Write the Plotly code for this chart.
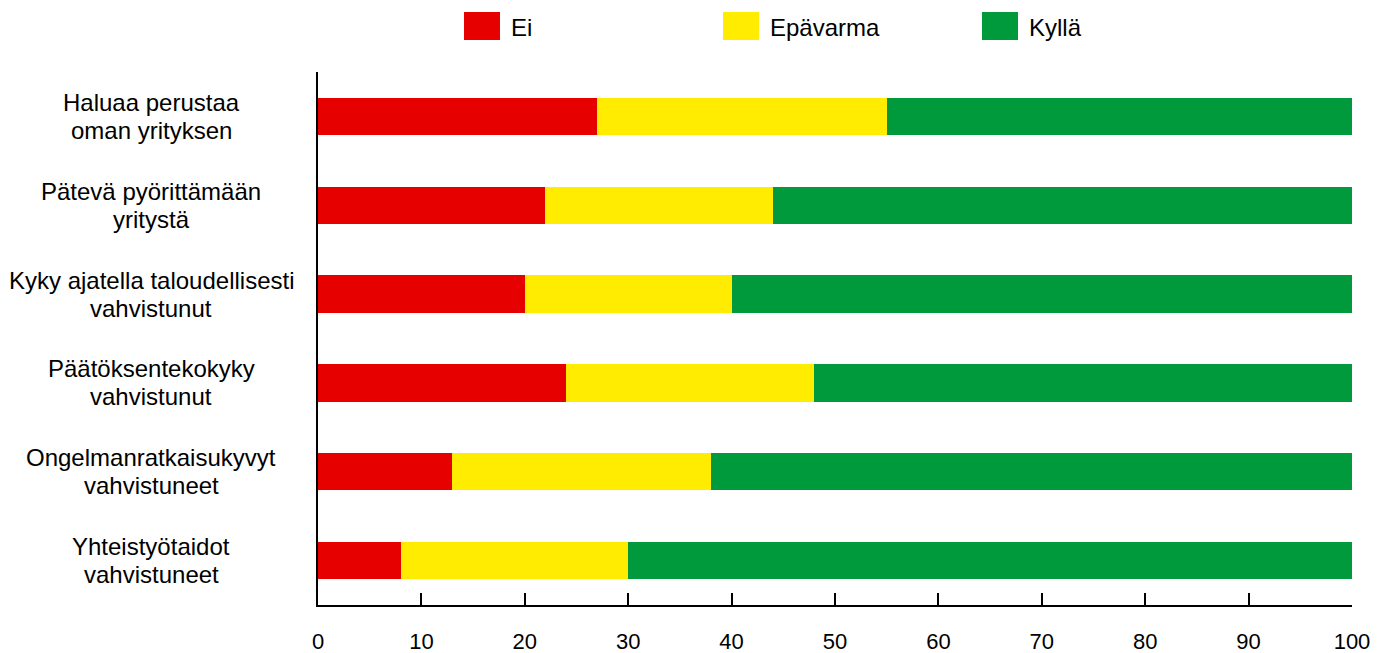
import plotly.graph_objects as go

categories = [
    "Haluaa perustaa<br>oman yrityksen",
    "Pätevä pyörittämään<br>yritystä",
    "Kyky ajatella taloudellisesti<br>vahvistunut",
    "Päätöksentekokyky<br>vahvistunut",
    "Ongelmanratkaisukyvyt<br>vahvistuneet",
    "Yhteistyötaidot<br>vahvistuneet",
]
ei = [27, 22, 20, 24, 13, 8]
epavarma = [28, 22, 20, 24, 25, 22]
kylla = [45, 56, 60, 52, 62, 70]
series_names = ["Ei", "Epävarma", "Kyllä"]
colors = ["#E60000", "#FFEC00", "#00993B"]
x_ticks = list(range(0, 101, 10))

W, H = 1384, 653
OFF = 8  # page body offset
# target screen positions of plot area
PX0, PX1, PY0, PY1 = 318, 1352, 72, 605
ML = PX0 - OFF
MR = W - (PX1 - OFF)
MT = PY0 - OFF
MB = H - (PY1 - OFF)
pw = PX1 - PX0
ph = PY1 - PY0
FONT = "Liberation Sans, Arial, Helvetica, sans-serif"


def sx(px):
    return (px - PX0) / pw


def sy(py):
    return (PY1 - py) / ph


fig = go.Figure()
for name, vals, col in zip(series_names, [ei, epavarma, kylla], colors):
    fig.add_trace(go.Bar(
        y=categories, x=vals, name=name, orientation="h",
        marker=dict(color=col, line=dict(width=0)),
        showlegend=False, hoverinfo="x+name",
    ))

# category labels, centered, two lines each
for c in categories:
    lines = c.split("<br>")
    for i, ln in enumerate(lines):
        fig.add_annotation(
            x=sx(151), xref="paper", y=c, yref="y",
            text=ln, showarrow=False, xanchor="center", yanchor="middle",
            yshift=14 - 28 * i,
            font=dict(size=24, color="black", family=FONT),
        )

# custom legend
legend_x = [464, 723, 982]
for name, col, lx in zip(series_names, colors, legend_x):
    fig.add_shape(
        type="rect", xref="paper", yref="paper",
        x0=sx(lx), x1=sx(lx + 36), y0=sy(40), y1=sy(12),
        fillcolor=col, line=dict(width=0),
    )
    fig.add_annotation(
        x=sx(lx + 45), xref="paper", y=sy(27), yref="paper",
        text=name, showarrow=False, xanchor="left", yanchor="middle",
        font=dict(size=24, color="black", family=FONT),
    )

fig.update_layout(
    width=W, height=H,
    margin=dict(l=ML, r=MR, t=MT, b=MB, pad=0, autoexpand=False),
    barmode="stack", bargap=0.58,
    plot_bgcolor="white", paper_bgcolor="white",
    font=dict(family=FONT, size=22, color="black"),
    showlegend=False,
    xaxis=dict(
        range=[0, 100], tickvals=x_ticks, ticktext=[str(t) for t in x_ticks],
        ticks="inside", ticklen=12, tickwidth=2, tickcolor="black",
        showline=True, linecolor="black", linewidth=2,
        showgrid=False, zeroline=False, ticklabelstandoff=16,
        automargin=False,
        tickfont=dict(size=22, color="black", family=FONT),
    ),
    yaxis=dict(
        categoryorder="array", categoryarray=categories, autorange="reversed",
        showticklabels=False, ticks="", automargin=False,
        showline=True, linecolor="black", linewidth=2,
        showgrid=False, zeroline=False,
    ),
)

fig.write_html("out.html")
